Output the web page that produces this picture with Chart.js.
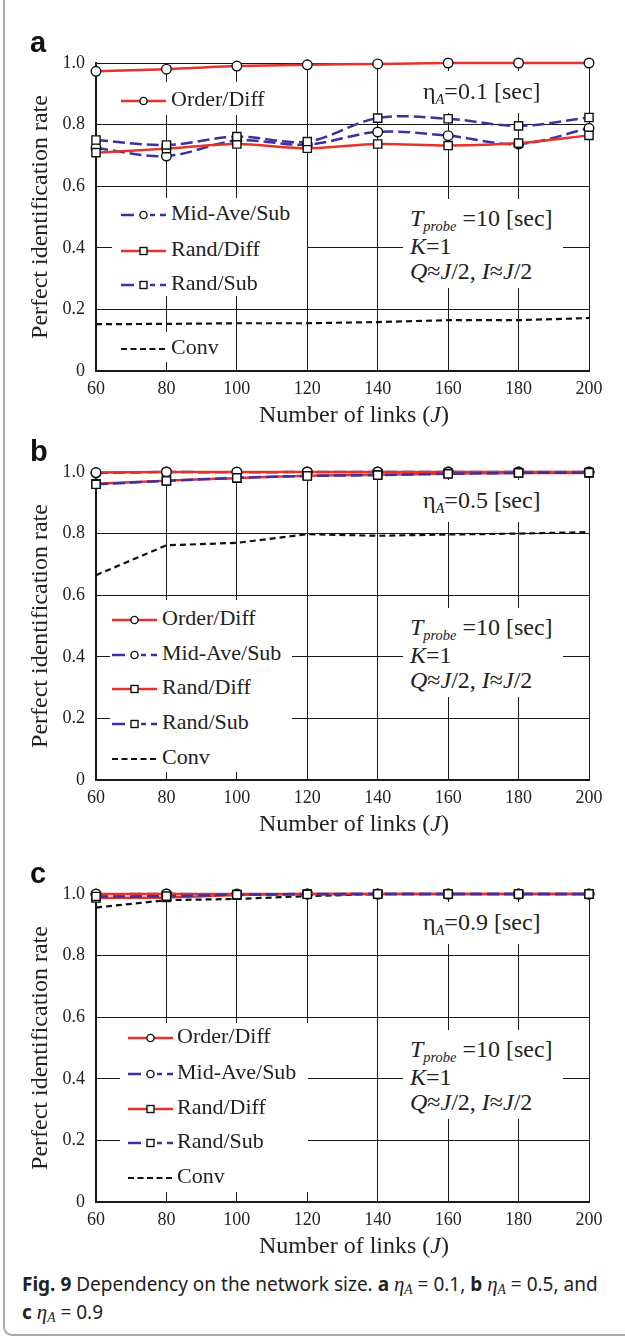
<!DOCTYPE html>
<html>
<head>
<meta charset="utf-8">
<script src="https://cdn.jsdelivr.net/npm/chart.js@4.4.1/dist/chart.umd.min.js"></script>
<style>
html,body{margin:0;padding:0;background:#fff;}
body{width:625px;height:1337px;position:relative;overflow:hidden;color:#222;font-family:'Liberation Serif','Times New Roman',serif;}
#frame{position:absolute;left:3px;top:-20px;width:700px;height:1356px;border-left:2px solid #a9a9a9;border-bottom:2px solid #a9a9a9;border-bottom-left-radius:9px;box-sizing:border-box;}
.panel{position:absolute;left:0;width:625px;height:420px;}
.panel canvas{position:absolute;left:0;top:0;}
.letter{position:absolute;left:30px;font:bold 29px 'Liberation Sans',Arial,sans-serif;line-height:29px;color:#111;}
.box{position:absolute;background:#fff;}
.row{position:absolute;height:30px;line-height:30px;font-size:22px;white-space:nowrap;}
.samp{position:absolute;}
.ann{position:absolute;font-size:24px;line-height:25px;white-space:nowrap;}
.sub{font-size:0.6em;position:relative;top:0.4em;font-style:italic;}
.xt{position:absolute;font-size:24px;line-height:28px;white-space:nowrap;transform:translateX(-50%);}
#cap{position:absolute;left:22px;top:1270px;font-family:'Noto Sans','Open Sans',sans-serif;font-size:19px;line-height:28px;color:#222;white-space:nowrap;}
#cap .m{font-family:'Liberation Serif',serif;font-style:italic;font-size:1.1em;}
#cap .m sub{font-size:0.65em;vertical-align:-0.2em;line-height:0;}
</style>
</head>
<body>
<div id="frame"></div>
<div id="cap"><b>Fig. 9</b> Dependency on the network size. <b>a</b> <span class="m">η<sub>A</sub></span> = 0.1, <b>b</b> <span class="m">η<sub>A</sub></span> = 0.5, and<br><b>c</b> <span class="m">η<sub>A</sub></span> = 0.9</div>
<script>
// ---------- data ----------
const J = [60, 80, 100, 120, 140, 160, 180, 200];
const yTickLabels = ['0', '0.2', '0.4', '0.6', '0.8', '1.0'];
const seriesNames = ['Order/Diff', 'Mid-Ave/Sub', 'Rand/Diff', 'Rand/Sub', 'Conv'];
const etaLabels = ['0.1', '0.5', '0.9'];
const panelLetters = ['a', 'b', 'c'];

const orderDiffA = [0.973, 0.980, 0.990, 0.994, 0.997, 1.000, 1.000, 1.000];
const midAveSubA = [0.724, 0.698, 0.748, 0.735, 0.776, 0.764, 0.737, 0.788];
const randDiffA  = [0.709, 0.722, 0.737, 0.723, 0.737, 0.732, 0.740, 0.765];
const randSubA   = [0.750, 0.734, 0.761, 0.745, 0.821, 0.819, 0.796, 0.823];
const convA      = [0.152, 0.153, 0.155, 0.155, 0.159, 0.165, 0.165, 0.172];

const orderDiffB = [0.998, 1.000, 1.000, 1.000, 1.000, 1.000, 1.000, 1.000];
const midAveSubB = [0.997, 1.000, 0.999, 1.000, 1.000, 1.000, 1.000, 1.000];
const randDiffB  = [0.962, 0.972, 0.980, 0.988, 0.991, 0.995, 0.997, 0.997];
const randSubB   = [0.960, 0.971, 0.981, 0.987, 0.990, 0.994, 0.997, 0.998];
const convB      = [0.665, 0.762, 0.770, 0.798, 0.793, 0.797, 0.800, 0.805];

const orderDiffC = [1.000, 1.000, 1.000, 1.000, 1.000, 1.000, 1.000, 1.000];
const midAveSubC = [0.999, 1.000, 0.998, 1.000, 1.000, 1.000, 1.000, 1.000];
const randDiffC  = [0.987, 0.989, 0.997, 1.000, 1.000, 1.000, 1.000, 1.000];
const randSubC   = [0.992, 0.993, 0.998, 0.999, 1.000, 1.000, 1.000, 1.000];
const convC      = [0.956, 0.980, 0.984, 0.993, 1.000, 1.000, 1.000, 1.000];

const panelSeries = [
  [orderDiffA, midAveSubA, randDiffA, randSubA, convA],
  [orderDiffB, midAveSubB, randDiffB, randSubB, convB],
  [orderDiffC, midAveSubC, randDiffC, randSubC, convC]
];

// ---------- styles / layout ----------
const RED = '#e6332a', BLUE = '#3b31a0', BLACK = '#111';
const seriesStyle = [
  {color: RED,   dash: [],      marker: 'circle', radius: 4.8, order: 2, tension: 0.3,  width: 2.5},
  {color: BLUE,  dash: [12, 5], marker: 'circle', radius: 4.8, order: 3, tension: 0.35, width: 2.5},
  {color: RED,   dash: [],      marker: 'rect',   radius: 5.8, order: 1, tension: 0.3,  width: 2.5},
  {color: BLUE,  dash: [12, 5], marker: 'rect',   radius: 5.8, order: 0, tension: 0.35, width: 2.5},
  {color: BLACK, dash: [6, 4],  marker: null,     radius: 0,   order: 4, tension: 0,    width: 2.2}
];
const PLOT_TOP = 63;      // plot top inside panel container
const PLOT_BOTTOM = 371;  // plot bottom inside panel container
const CANVAS_H = 420;
const panelLayout = [
  {top: 0,   legend: {sampleX: 121, textX: 171, rowsY: [36, 150, 186, 220, 284],
              boxes: [[112, 19, 160, 33], [112, 135, 195, 98], [112, 269, 115, 30]]}},
  {top: 409, legend: {sampleX: 112, textX: 162, rowsY: [146, 181, 215, 250, 285],
              boxes: [[110, 128, 182, 172]]}},
  {top: 831, legend: {sampleX: 128, textX: 177, rowsY: [142, 178, 213, 247, 282],
              boxes: [[120, 129, 188, 169]]}}
];

Chart.defaults.font.family = "'Liberation Serif', 'Times New Roman', serif";
Chart.defaults.color = '#222';

function sampleSVG(i) {
  const s = seriesStyle[i];
  let g = '';
  if (i === 4) {
    g += `<line x1="0" y1="6" x2="45" y2="6" stroke="${s.color}" stroke-width="2.2" stroke-dasharray="6,3.5"/>`;
  } else if (s.dash.length) {
    [[0, 13], [29, 34], [39, 45]].forEach(([a, b]) => {
      g += `<line x1="${a}" y1="6" x2="${b}" y2="6" stroke="${s.color}" stroke-width="2.5"/>`;
    });
  } else {
    g += `<line x1="0" y1="6" x2="45" y2="6" stroke="${s.color}" stroke-width="2.5"/>`;
  }
  if (s.marker === 'circle') g += `<circle cx="22.5" cy="6" r="3.6" fill="#fff" stroke="#111" stroke-width="1.4"/>`;
  if (s.marker === 'rect') g += `<rect x="19" y="2.5" width="7" height="7" fill="#fff" stroke="#111" stroke-width="1.4"/>`;
  return `<svg width="46" height="12" viewBox="0 0 46 12">${g}</svg>`;
}

function el(parent, cls, css, html) {
  const d = document.createElement('div');
  d.className = cls;
  Object.assign(d.style, css);
  if (html !== undefined) d.innerHTML = html;
  parent.appendChild(d);
  return d;
}

panelLayout.forEach((lay, p) => {
  const wrap = el(document.body, 'panel', {top: lay.top + 'px'});
  const cv = document.createElement('canvas');
  cv.width = 625; cv.height = CANVAS_H;
  cv.style.width = '625px'; cv.style.height = CANVAS_H + 'px';
  wrap.appendChild(cv);

  const datasets = panelSeries[p].map((vals, i) => {
    const s = seriesStyle[i];
    return {
      label: seriesNames[i],
      data: vals,
      borderColor: s.color,
      backgroundColor: s.color,
      borderWidth: s.width,
      borderDash: s.dash,
      pointStyle: s.marker || 'circle',
      pointRadius: s.radius,
      pointHoverRadius: s.radius,
      pointBackgroundColor: '#fff',
      pointBorderColor: '#111',
      pointBorderWidth: 1.4,
      tension: s.tension,
      order: s.order,
      fill: false,
      clip: false
    };
  });

  new Chart(cv, {
    type: 'line',
    data: {labels: J, datasets},
    options: {
      responsive: false, animation: false, devicePixelRatio: 1,
      layout: {padding: {top: PLOT_TOP, right: 36, bottom: 0, left: 0}},
      plugins: {legend: {display: false}, tooltip: {enabled: false}},
      scales: {
        x: {
          type: 'category', offset: false,
          grid: {color: '#1a1a1a', lineWidth: 1, drawTicks: false},
          border: {color: '#1a1a1a', width: 2},
          ticks: {padding: 7, font: {size: 18}, color: '#222', maxRotation: 0, autoSkip: false},
          afterFit(s) { s.height = CANVAS_H - PLOT_BOTTOM; }
        },
        y: {
          min: 0, max: 1,
          grid: {color: '#1a1a1a', lineWidth: 1, drawTicks: false},
          border: {color: '#1a1a1a', width: 2},
          ticks: {stepSize: 0.2, padding: 11, font: {size: 18}, color: '#222',
                  callback: (v, i) => yTickLabels[i]},
          title: {display: true, text: 'Perfect identification rate', font: {size: 24}, color: '#222',
                  padding: {top: 26, bottom: 0}},
          afterFit(s) { s.width = 96; }
        }
      }
    }
  });

  // white boxes hiding gridlines behind legend / annotations
  const T = PLOT_TOP;
  lay.legend.boxes.forEach(([x, y, w, h]) =>
    el(wrap, 'box', {left: x + 'px', top: (T + y) + 'px', width: w + 'px', height: h + 'px'}));
  el(wrap, 'box', {left: '410px', top: (T + 8) + 'px', width: '150px', height: '42px'});
  el(wrap, 'box', {left: '403px', top: (T + 136) + 'px', width: '160px', height: '89px'});

  // legend rows
  lay.legend.rowsY.forEach((ry, i) => {
    el(wrap, 'samp', {left: lay.legend.sampleX + 'px', top: (T + ry - 6) + 'px'}, sampleSVG(i));
    el(wrap, 'row', {left: lay.legend.textX + 'px', top: (T + ry - 15) + 'px'}, seriesNames[i]);
  });

  // annotations
  el(wrap, 'ann', {left: '423px', top: (T + 28 - 12.5) + 'px'},
     `η<span class="sub">A</span>=${etaLabels[p]} [sec]`);
  el(wrap, 'ann', {left: '410px', top: (T + 155 - 12.5) + 'px'},
     `<i>T</i><span class="sub">probe</span> =10 [sec]<br><i>K</i>=1<br><i>Q</i>≈<i>J</i>/2, <i>I</i>≈<i>J</i>/2`);

  // x-axis title
  el(wrap, 'xt', {left: '354px', top: (PLOT_BOTTOM + 42.5 - 14) + 'px'}, 'Number of links (<i>J</i>)');

  // panel letter
  el(wrap, 'letter', {top: (PLOT_TOP - 35.5) + 'px'}, panelLetters[p]);
});
</script>
</body>
</html>
